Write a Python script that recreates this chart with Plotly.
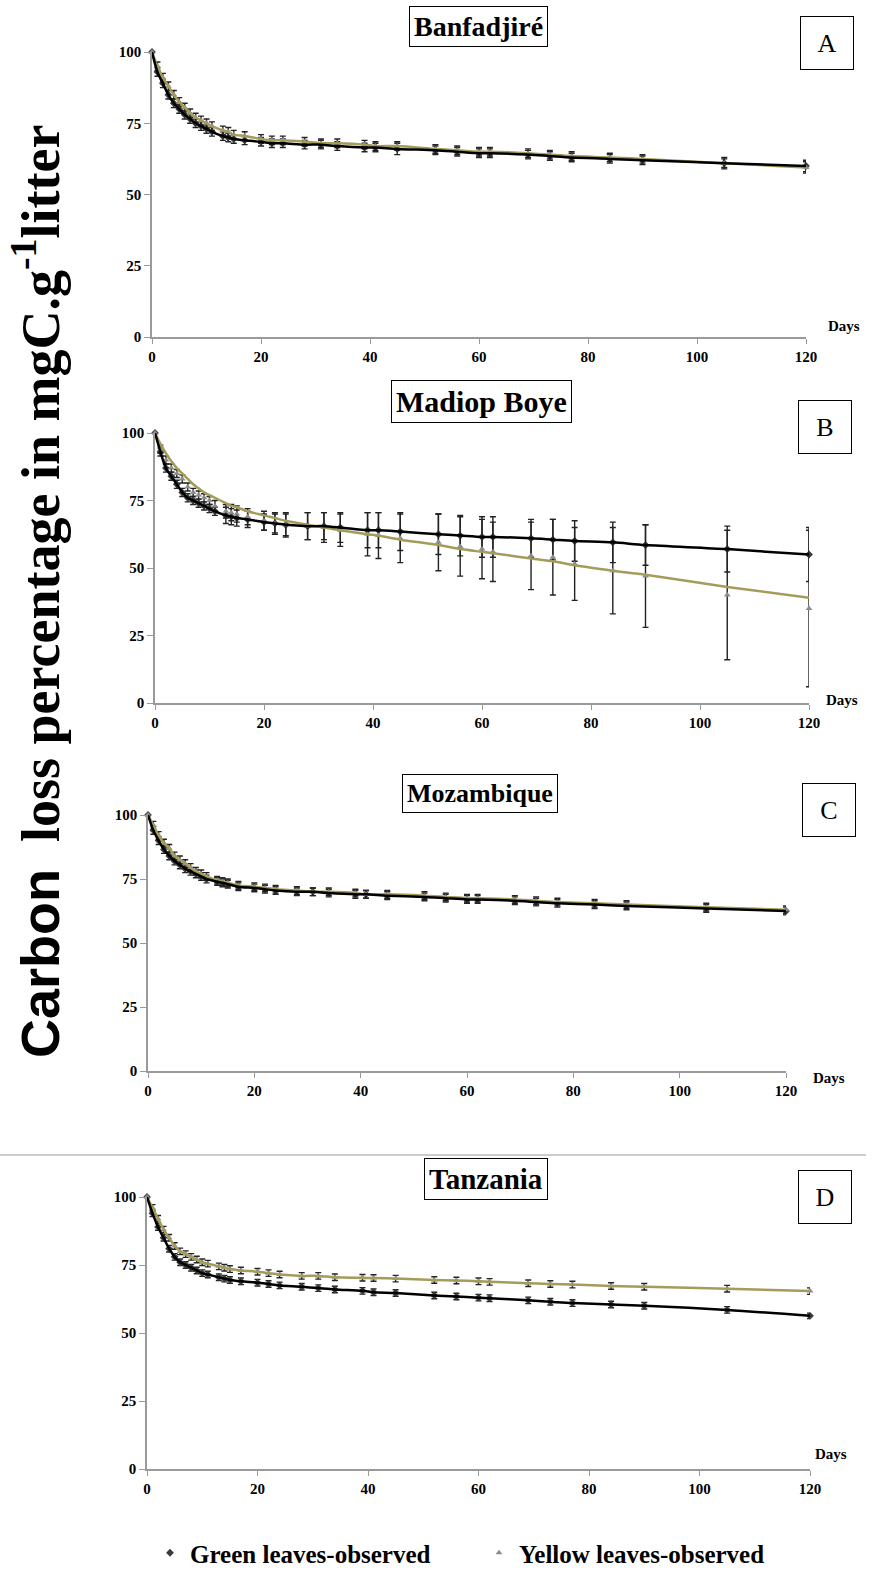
import plotly.graph_objects as go

# ---------------- data ----------------
days = [0, 1, 2, 3, 4, 5, 6, 7, 8, 9, 10, 11, 13, 14, 15, 17, 20, 22, 24, 28,
        31, 34, 39, 41, 45, 52, 56, 60, 62, 69, 73, 77, 84, 90, 105, 120]

x_ticks = [0, 20, 40, 60, 80, 100, 120]
y_ticks = [0, 25, 50, 75, 100]

panel_titles = ["Banfadjiré", "Madiop Boye", "Mozambique", "Tanzania"]
panel_letters = ["A", "B", "C", "D"]

# Panel A - Banfadjiré
a_green = [100, 93, 89, 85, 82, 80, 78, 76.5, 75, 74, 73, 72, 70.5, 70, 69.5, 69, 68.5, 68, 68, 67.5,
           67.5, 67, 66.5, 66.5, 66, 65.5, 65, 64.5, 64.5, 64, 63.5, 63, 62.5, 62, 61, 60]
a_green_err = [0, 1.5, 1.5, 1.5, 1.5, 1.5, 1.5, 1.5, 1.5, 1.5, 1.5, 1.5, 1.5, 1.5, 1.5, 1.5, 1.5, 1.5, 1.5, 1.5,
               1.5, 1.5, 1.5, 1.5, 2, 1.5, 1.5, 1.5, 1.5, 1.5, 1.5, 1.5, 1.5, 1.5, 2, 2]
a_yellow = [100, 95, 91, 88, 85, 82.5, 80.5, 78.5, 77, 76, 75, 74, 72.5, 72, 71, 70.5, 69.5, 69, 69, 68.5,
            68, 68, 67.5, 67, 67, 66, 65.5, 65, 65, 64.5, 64, 63.5, 63, 62.5, 61, 59.5]
a_yellow_err = [0, 1.5, 1.5, 1.5, 1.5, 1.5, 1.5, 1.5, 1.5, 1.5, 1.5, 1.5, 1.5, 1.5, 1.5, 1.5, 1.5, 1.5, 1.5, 1.5,
                1.5, 1.5, 1.5, 1.5, 1.5, 1.5, 1.5, 1.5, 1.5, 1.5, 1.5, 1.5, 1.5, 1.5, 1.5, 2]

# Panel B - Madiop Boye
b_green = [100, 93, 87, 84, 81, 78, 76, 75, 74, 73, 72, 71, 69.5, 69, 68.5, 68, 67, 66.5, 66, 65.5,
           65.5, 65, 64, 64, 63.5, 62.5, 62, 61.5, 61.5, 61, 60.5, 60, 59.5, 58.5, 57, 55]
b_green_err = [0, 1.5, 1.5, 1.5, 1.5, 1.5, 1.5, 1.5, 1.5, 1.5, 1.5, 1.5, 3, 3, 3, 3, 3, 3.5, 4, 5,
               5, 5.5, 6.5, 6.5, 7, 7.5, 7.5, 7.5, 7.5, 7, 7.5, 7.5, 7.5, 7.5, 8.5, 10]
b_yellow = [100, 94, 90, 87, 85, 83, 80, 78, 77, 76, 75, 73, 71, 70.5, 70, 69, 67.5, 66.5, 66, 65.5,
            65, 64, 62.5, 62, 61, 59.5, 58, 57, 56, 54.5, 54, 51.5, 49, 47, 40, 35]
b_yellow_err = [0, 1.5, 1.5, 1.5, 1.5, 1.5, 1.5, 1.5, 1.5, 1.5, 1.5, 2, 2.5, 3, 3, 3, 3.5, 4, 4.5, 5,
                5.5, 6, 8, 8.5, 9, 10.5, 11, 11, 11, 12.5, 14, 13.5, 16, 19, 24, 29]
b_yellow_fit = [100, 96, 92.5, 89.5, 87, 85, 83, 81, 79.5, 78, 77, 76, 74, 73, 72.5, 71, 69.5, 68.5, 67.5, 66,
                65, 64, 62.5, 62, 60.5, 58.5, 57, 56, 55.5, 53.5, 52.5, 51, 49, 47.5, 43, 39]

# Panel C - Mozambique
c_green = [100, 94, 90, 86.5, 84, 82, 80.5, 79, 78, 77, 76, 75, 74, 73.5, 73, 72, 71.5, 71, 70.5, 70,
           70, 69.5, 69, 69, 68.5, 68, 67.5, 67, 67, 66.5, 66, 65.5, 65, 64.5, 63.5, 62.5]
c_green_err = [0, 1.5, 1.5, 1.5, 1.5, 1.5, 1.5, 1.5, 1.5, 1.5, 1.5, 1.5, 1.5, 1.5, 1.5, 1.5, 1.5, 1.5, 1.5, 1.5,
               1.5, 1.5, 1.5, 1.5, 1.5, 1.5, 1.5, 1.5, 1.5, 1.5, 1.5, 1.5, 1.5, 1.5, 1.5, 1.5]
c_yellow = [100, 96, 92, 89, 87, 84, 82.5, 81, 79.5, 78, 77, 76, 74.5, 74, 73.5, 72.5, 72, 71.5, 71, 70.5,
            70, 70, 69.5, 69, 69, 68.5, 68, 67.5, 67.5, 67, 66.5, 66, 65.5, 65, 64, 63]
c_yellow_err = [0, 1.5, 1.5, 1.5, 1.5, 1.5, 1.5, 1.5, 1.5, 1.5, 1.5, 1.5, 1.5, 1.5, 1.5, 1.5, 1.5, 1.5, 1.5, 1.5,
                1.5, 1.5, 1.5, 1.5, 1.5, 1.5, 1.5, 1.5, 1.5, 1.5, 1.5, 1.5, 1.5, 1.5, 1.5, 1.5]

# Panel D - Tanzania
d_green = [100, 94, 89, 85, 81, 78, 76, 75, 74, 73, 72, 71.5, 70.5, 70, 69.5, 69, 68.5, 68, 67.5, 67,
           66.5, 66, 65.5, 65, 64.7, 63.8, 63.4, 63, 62.8, 62, 61.5, 61, 60.5, 60, 58.5, 56.3]
d_green_err = [0, 1.2, 1.2, 1.2, 1.2, 1.2, 1.2, 1.2, 1.2, 1.2, 1.2, 1.2, 1.2, 1.2, 1.2, 1.2, 1.2, 1.2, 1.2, 1.2,
               1.2, 1.2, 1.2, 1.2, 1.2, 1.2, 1.2, 1.2, 1.2, 1.2, 1.2, 1.2, 1.2, 1.2, 1.2, 1.0]
d_yellow = [100, 96, 92, 88, 85, 82, 80, 79, 78, 77, 76, 75.5, 74.5, 74, 73.5, 73, 72.5, 72, 71.5, 71,
            71, 70.5, 70.3, 70.2, 70, 69.5, 69.3, 69, 68.8, 68.3, 68, 67.8, 67.3, 67, 66.3, 65.4]
d_yellow_err = [0, 1.2, 1.2, 1.2, 1.2, 1.2, 1.2, 1.2, 1.2, 1.2, 1.2, 1.2, 1.2, 1.2, 1.2, 1.2, 1.2, 1.2, 1.2, 1.2,
                1.2, 1.2, 1.2, 1.2, 1.2, 1.2, 1.2, 1.2, 1.2, 1.2, 1.2, 1.2, 1.2, 1.2, 1.2, 1.2]

panels = [
    dict(g=a_green, ge=a_green_err, y=a_yellow, ye=a_yellow_err, gfit=a_green, yfit=a_yellow),
    dict(g=b_green, ge=b_green_err, y=b_yellow, ye=b_yellow_err, gfit=b_green, yfit=b_yellow_fit),
    dict(g=c_green, ge=c_green_err, y=c_yellow, ye=c_yellow_err, gfit=c_green, yfit=c_yellow),
    dict(g=d_green, ge=d_green_err, y=d_yellow, ye=d_yellow_err, gfit=d_green, yfit=d_yellow),
]

# ---------------- layout geometry (pixels) ----------------
W, H = 873, 1570
# (x_left, x_right, y_top(100), y_bottom(0))
boxes = [
    (152, 806, 52, 337),
    (155, 809, 433, 703),
    (148, 786, 815, 1071),
    (147, 810, 1197, 1469),
]
title_pos = [(478, 27, 28), (481, 402, 30), (480, 793, 26), (486, 1179, 29)]
letter_pos = [(827, 43), (825, 427), (829, 810), (825, 1197)]
days_pos = [(844, 326), (842, 700), (829, 1078), (831, 1454)]

def px(x):
    return x / W

def py(y):
    return 1 - y / H

SERIF = "Liberation Serif, Times New Roman, serif"
OLIVE = "#a39c5a"

fig = go.Figure()
layout = dict(
    width=W, height=H, margin=dict(l=0, r=0, t=0, b=0, autoexpand=False),
    paper_bgcolor="white", plot_bgcolor="rgba(0,0,0,0)",
    showlegend=True,
)
annotations = []
shapes = []

for i, p in enumerate(panels):
    n = "" if i == 0 else str(i + 1)
    xa, ya = "x" + n, "y" + n
    xl, xr, yt, yb = boxes[i]
    layout["xaxis" + n] = dict(
        domain=[px(xl), px(xr)], anchor=ya, range=[0, 120], automargin=False,
        tickvals=x_ticks, ticks="outside", ticklen=5, tickcolor="#9a9a9a",
        showline=True, linecolor="#9a9a9a", linewidth=1.5, showgrid=False, zeroline=False,
        tickfont=dict(family=SERIF, size=15, color="black", weight="bold"),
    )
    layout["yaxis" + n] = dict(
        domain=[py(yb), py(yt)], anchor=xa, range=[0, 100], automargin=False,
        tickvals=y_ticks, ticks="outside", ticklen=6, tickcolor="#9a9a9a",
        showline=True, linecolor="#9a9a9a", linewidth=1.5, showgrid=False, zeroline=False,
        tickfont=dict(family=SERIF, size=15, color="black", weight="bold"),
    )

    # observed green leaves
    fig.add_trace(go.Scatter(
        x=days, y=p["g"], xaxis=xa, yaxis=ya, mode="markers",
        name="Green leaves-observed", legendgroup="g", showlegend=(i == 0),
        marker=dict(symbol="diamond", size=6, color="#3a3a3a"),
        error_y=dict(type="data", array=p["ge"], color="#222222", thickness=1.4, width=3),
        cliponaxis=False,
    ))
    # observed yellow leaves
    fig.add_trace(go.Scatter(
        x=days, y=p["y"], xaxis=xa, yaxis=ya, mode="markers",
        name="Yellow leaves-observed", legendgroup="y", showlegend=(i == 0),
        marker=dict(symbol="triangle-up", size=6, color="#8c8c8c"),
        error_y=dict(type="data", array=p["ye"], color="#222222", thickness=1.4, width=3),
        cliponaxis=False,
    ))
    # fitted curves
    fig.add_trace(go.Scatter(
        x=days, y=p["yfit"], xaxis=xa, yaxis=ya, mode="lines", showlegend=False,
        line=dict(color=OLIVE, width=2.5, shape="spline", smoothing=0.8), hoverinfo="skip",
    ))
    fig.add_trace(go.Scatter(
        x=days, y=p["gfit"], xaxis=xa, yaxis=ya, mode="lines", showlegend=False,
        line=dict(color="black", width=2.5, shape="spline", smoothing=0.8), hoverinfo="skip",
    ))

    # title box
    tx, ty, ts = title_pos[i]
    annotations.append(dict(
        x=px(tx), y=py(ty), xref="paper", yref="paper", showarrow=False,
        xanchor="center", yanchor="middle",
        text="<b>%s</b>" % panel_titles[i],
        font=dict(family=SERIF, size=ts, color="black"),
        bordercolor="black", borderwidth=1, borderpad=4, bgcolor="white",
    ))
    # letter box
    lx, ly = letter_pos[i]
    annotations.append(dict(
        x=px(lx), y=py(ly), xref="paper", yref="paper", showarrow=False,
        xanchor="center", yanchor="middle",
        text=panel_letters[i], width=42, height=42,
        font=dict(family=SERIF, size=26, color="black"),
        bordercolor="black", borderwidth=1, borderpad=5, bgcolor="white",
    ))
    # Days label
    dx, dy = days_pos[i]
    annotations.append(dict(
        x=px(dx), y=py(dy), xref="paper", yref="paper", showarrow=False,
        xanchor="center", yanchor="middle",
        text="<b>Days</b>", font=dict(family=SERIF, size=15, color="black"),
    ))

# y-axis title
annotations.append(dict(
    x=px(36), y=py(592), xref="paper", yref="paper", showarrow=False, textangle=-90,
    xanchor="center", yanchor="middle",
    text='<b><span style="font-family:Liberation Sans, Arial, sans-serif">Carbon</span>'
         '  loss percentage in mgC.g<sup>-1</sup>litter</b>',
    font=dict(family=SERIF, size=54, color="black"),
))

# separator line above panel D
shapes.append(dict(type="line", xref="paper", yref="paper",
                   x0=0, x1=px(866), y0=py(1155), y1=py(1155),
                   line=dict(color="#9a9a9a", width=1)))

layout["annotations"] = annotations
layout["shapes"] = shapes
layout["legend"] = dict(
    orientation="h", x=px(150), xanchor="left", y=py(1553), yanchor="middle",
    font=dict(family=SERIF, size=25, color="black", weight="bold"),
    itemsizing="trace", entrywidth=284, entrywidthmode="pixels",
    bgcolor="rgba(0,0,0,0)",
)
fig.update_layout(**layout)
fig.write_html("out.html")
